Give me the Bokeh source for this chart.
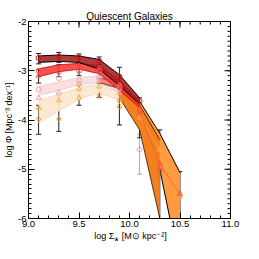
import math
from bokeh.plotting import figure
from bokeh.models import SingleIntervalTicker, Whisker, TeeHead, ColumnDataSource, Range1d
from bokeh.embed import file_html
from bokeh.resources import INLINE

# ---------------- data ----------------
x = [9.1, 9.3, 9.5, 9.7, 9.9, 10.1, 10.3, 10.5]

# shaded bands (upper / lower edges)
peach_x = [9.1, 9.3, 9.5, 9.7, 9.9]
peach_hi = [-3.60, -3.48, -3.34, -3.27, -3.38]
peach_lo = [-4.05, -3.82, -3.58, -3.45, -3.60]

pink_x = [9.1, 9.3, 9.5, 9.7, 9.9, 10.1]
pink_hi = [-3.32, -3.23, -3.14, -3.10, -3.28, -3.85]
pink_lo = [-3.50, -3.40, -3.28, -3.24, -3.45, -4.05]

salmon_x = [9.7, 9.9, 10.1]
salmon_hi = [-3.16, -3.18, -3.70]
salmon_lo = [-3.24, -3.36, -3.95]

orange_light_x = [9.9, 10.1, 10.3, 10.5]
orange_light_hi = [-3.33, -3.62, -4.27, -5.07]
orange_light_lo = [-3.50, -3.90, -5.00, -7.00]

orange_dark_x = [9.9, 10.1, 10.3]
orange_dark_hi = [-3.38, -3.70, -4.40]
orange_dark_lo = [-3.55, -4.20, -6.00]

red_x = [9.1, 9.3, 9.5, 9.7, 9.9, 10.1]
red_hi = [-2.96, -2.88, -2.85, -2.90, -3.20, -3.62]
red_lo = [-3.12, -3.02, -2.97, -3.06, -3.40, -3.75]

maroon_x = [9.1, 9.3, 9.5, 9.7, 9.9, 10.1]
maroon_hi = [-2.70, -2.68, -2.70, -2.77, -3.08, -3.55]
maroon_lo = [-2.83, -2.81, -2.83, -2.97, -3.30, -3.68]

# open symbols
A_x = [9.1, 9.3, 9.5, 9.7, 9.9, 10.1]
A_y = [-2.74, -2.71, -2.73, -2.80, -3.12, -3.62]
B_x = [9.1, 9.3, 9.5, 9.7, 9.9, 10.1, 10.3]
B_y = [-3.00, -3.02, -3.00, -3.00, -3.30, -3.80, -5.03]
C_x = [9.1, 9.3, 9.5, 9.7, 9.9, 10.1, 10.3, 10.5]
C_y = [-3.10, -2.95, -2.90, -2.95, -3.30, -3.85, -4.90, -5.50]
D_x = [9.1, 9.3, 9.5, 9.7, 9.9, 10.1]
D_y = [-3.38, -3.15, -3.20, -3.15, -3.35, -4.60]
E_x = [9.1, 9.3, 9.5, 9.7, 9.9]
E_y = [-3.55, -3.44, -3.27, -3.20, -3.45]
F_x = [9.1, 9.3, 9.5, 9.7, 9.9, 10.1, 10.3, 10.5]
F_y = [-3.76, -3.60, -3.37, -3.32, -3.60, -3.95, -4.60, -5.55]
G_x = [9.1, 9.3, 9.5, 9.7, 9.9]
G_y = [-3.98, -3.98, -3.56, -3.50, -3.72]

# error bars
EA_hi = [-2.65, -2.63, -2.66, -2.72, -2.93, -3.55]
EA_lo = [-2.86, -2.83, -2.86, -3.00, -3.35, -3.75]
EC_hi = [-2.98, -2.88, -2.85, -2.88, -3.15, -3.70, -4.20, -5.05]
EC_lo = [-3.25, -3.12, -3.10, -3.15, -3.55, -4.36, -6.50, -6.50]
EG_hi = [-3.70, -3.50, -3.30, -3.25, -3.40]
EG_lo = [-4.29, -4.23, -3.70, -3.54, -4.10]
ED_x = [9.9, 10.1]
ED_hi = [-3.25, -4.30]
ED_lo = [-3.75, -5.10]

y_ticks = [-6, -5, -4, -3, -2]
y_tick_labels = ["-6", "-5", "-4", "-3", "-2"]
x_ticks = [9.0, 9.5, 10.0, 10.5, 11.0]
x_tick_labels = ["9.0", "9.5", "10.0", "10.5", "11.0"]
x_minor_step = 0.1
y_minor_step = 0.1

FONT = "Liberation Sans"

p = figure(width=243, height=243, output_backend="svg", toolbar_location=None,
           x_range=Range1d(9.0, 11.0), y_range=Range1d(-6, -2),
           min_border_left=28, min_border_right=13, min_border_top=21, min_border_bottom=25,
           x_axis_label="log Σ\u204e [M\u2299 kpc\u207b\u00b2]",
           y_axis_label="log Φ [Mpc\u207b\u00b3 dex\u207b\u00b9]")
p.grid.visible = False
p.outline_line_color = "black"
p.outline_line_width = 1
p.background_fill_color = "white"
p.border_fill_color = "white"

p.title.text = "Quiescent Galaxies"
p.title.align = "center"
p.title.text_font = FONT
p.title.text_font_style = "normal"
p.title.text_font_size = "10px"
p.title.text_color = "black"
p.title.standoff = 0

def style_axis(ax, interval, minor):
    ax.ticker = SingleIntervalTicker(interval=interval, num_minor_ticks=minor)
    ax.major_tick_in = 6
    ax.major_tick_out = 0
    ax.minor_tick_in = 3
    ax.minor_tick_out = 0
    ax.axis_line_color = "black"
    ax.major_tick_line_color = "black"
    ax.minor_tick_line_color = "black"
    ax.major_label_text_font = FONT
    ax.major_label_text_font_size = "9.5px"
    ax.major_label_text_color = "black"
    ax.major_label_standoff = 2
    ax.axis_label_text_font = FONT
    ax.axis_label_text_font_style = "normal"
    ax.axis_label_text_font_size = "9px"
    ax.axis_label_text_color = "black"
    ax.axis_label_standoff = 1

style_axis(p.xaxis[0], 0.5, 5)
style_axis(p.yaxis[0], 1, 10)
p.xaxis[0].major_label_overrides = dict(zip(x_ticks, x_tick_labels))
p.yaxis[0].major_label_overrides = dict(zip(y_ticks, y_tick_labels))

# inward ticks on the top and right frame edges
x_minor = [x_ticks[0] + k * x_minor_step for k in range(int(round((x_ticks[-1] - x_ticks[0]) / x_minor_step)) + 1)]
y_minor = [y_ticks[0] + k * y_minor_step for k in range(int(round((y_ticks[-1] - y_ticks[0]) / y_minor_step)) + 1)]
p.ray(x=x_minor, y=[y_ticks[-1]] * len(x_minor), length=3, angle=-math.pi / 2,
      length_units="screen", line_color="black", line_width=1)
p.ray(x=x_ticks, y=[y_ticks[-1]] * len(x_ticks), length=6, angle=-math.pi / 2,
      length_units="screen", line_color="black", line_width=1)
p.ray(x=[x_ticks[-1]] * len(y_minor), y=y_minor, length=3, angle=math.pi,
      length_units="screen", line_color="black", line_width=1)
p.ray(x=[x_ticks[-1]] * len(y_ticks), y=y_ticks, length=6, angle=math.pi,
      length_units="screen", line_color="black", line_width=1)

def band(bx, hi, lo, fill, alpha, edge, edge_w=1.0):
    p.varea(x=bx, y1=lo, y2=hi, fill_color=fill, fill_alpha=alpha)
    p.line(bx, hi, line_color=edge, line_width=edge_w)
    p.line(bx, lo, line_color=edge, line_width=edge_w)

band(peach_x, peach_hi, peach_lo, "#fde6cc", 0.9, "#eadccc", 0.8)
band(pink_x, pink_hi, pink_lo, "#fad6d6", 0.8, "#e4cccc", 0.8)
band(salmon_x, salmon_hi, salmon_lo, "#ff7a66", 0.9, "#402020", 0.8)
band(orange_light_x, orange_light_hi, orange_light_lo, "#ff9a40", 1.0, "black", 1.0)
band(orange_dark_x, orange_dark_hi, orange_dark_lo, "#f2801f", 1.0, "#301000", 0.8)
band(red_x, red_hi, red_lo, "#ff3030", 0.85, "#b01010", 0.8)
band(maroon_x, maroon_hi, maroon_lo, "#a01818", 0.85, "black", 1.0)

def whisk(wx, hi, lo, color):
    src = ColumnDataSource(dict(x=wx, hi=hi, lo=lo))
    w = Whisker(base="x", upper="hi", lower="lo", source=src, line_color=color, line_width=1,
                upper_head=TeeHead(size=5, line_color=color, line_width=1),
                lower_head=TeeHead(size=5, line_color=color, line_width=1))
    p.add_layout(w)

whisk(ED_x, ED_hi, ED_lo, "#a8a8a8")
whisk(G_x, EG_hi, EG_lo, "#202020")
whisk(C_x, EC_hi, EC_lo, "#202020")
whisk(A_x, EA_hi, EA_lo, "#202020")

def markers(mx, my, color, marker, size=5, tail=None):
    if tail is not None:
        p.line(mx[tail:], my[tail:], line_color=color, line_width=0.8, line_alpha=0.9)
    p.scatter(mx, my, marker=marker, size=size, fill_color=None, line_color=color, line_width=1)

markers(G_x, G_y, "#ff9a30", "diamond", 6)
markers(F_x, F_y, "#ffb040", "triangle", 5, tail=5)
markers(E_x, E_y, "#ff9a9a", "triangle", 5)
markers(D_x, D_y, "#f0a8a8", "circle", 5)
markers(C_x, C_y, "#ff4a4a", "triangle", 5, tail=5)
markers(B_x, B_y, "#ff5050", "circle", 5)
markers(A_x, A_y, "#e01010", "circle", 5)

open("out.html", "w").write(file_html(p, INLINE))
